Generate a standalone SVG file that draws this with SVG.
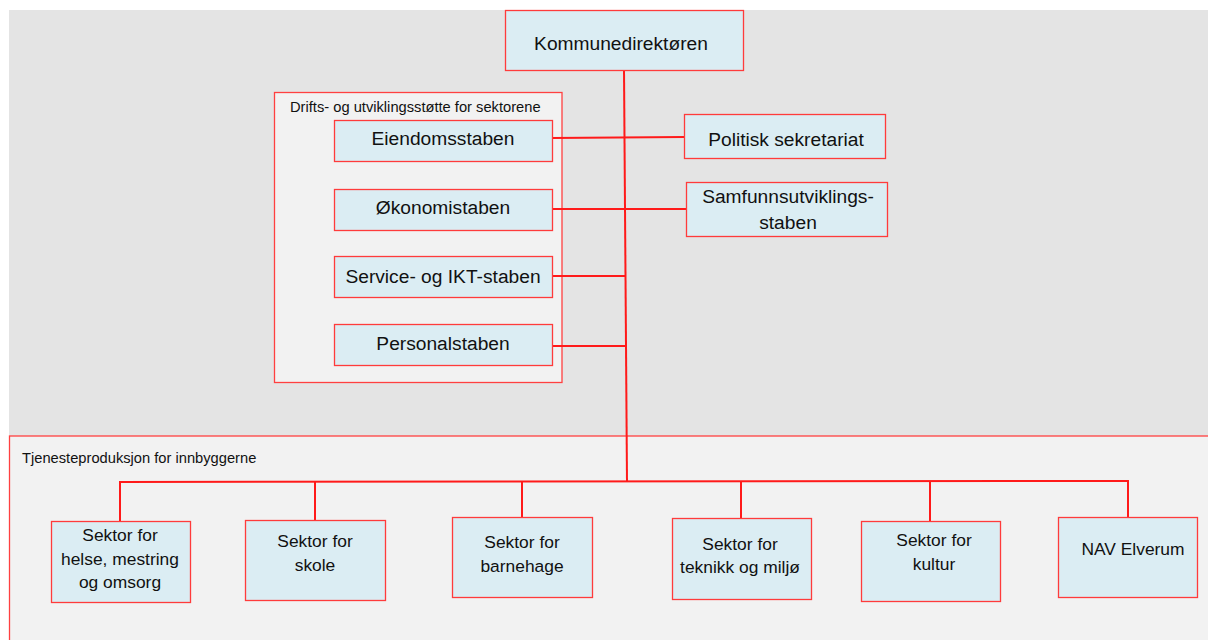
<svg xmlns="http://www.w3.org/2000/svg" width="1208" height="640" viewBox="0 0 1208 640">
<style>
.box{fill:#dbedf3;stroke:#ff3b3b;stroke-width:1.3}
.area{fill:#f2f2f2;stroke:#ff4040;stroke-width:1.3}
.t{font-family:"Liberation Sans",Arial,sans-serif;fill:#111;text-anchor:middle}
.big{font-size:19.2px}
.sec{font-size:17.4px}
.lab{font-family:"Liberation Sans",Arial,sans-serif;fill:#111;font-size:14.7px}
.con{stroke:#ff1a1a;stroke-width:2;fill:none}
</style>
<rect x="0" y="0" width="1208" height="640" fill="#ffffff"/>
<rect x="9" y="10" width="1199" height="426" fill="#e4e4e4"/>
<g id="tjeneste-area">
<rect class="area" x="9.5" y="436" width="1200" height="210"/>
<text class="lab" x="22" y="463">Tjenesteproduksjon for innbyggerne</text>
</g>
<g id="drifts-area">
<rect class="area" x="274.5" y="92.5" width="287.5" height="290"/>
<text class="lab" x="290" y="112">Drifts- og utviklingsstøtte for sektorene</text>
</g>
<g id="connectors">
<path class="con" d="M624,70 L627,482"/>
<path class="con" d="M552,138 L684,137"/>
<path class="con" d="M552,209 L686,209"/>
<path class="con" d="M552,276 L626,276"/>
<path class="con" d="M552,346 L626,346"/>
<path class="con" d="M120,521 L120,482 L1128,481 L1128,517"/>
<path class="con" d="M315,482 L315,520"/>
<path class="con" d="M522,482 L522,518"/>
<path class="con" d="M741,481 L741,518"/>
<path class="con" d="M930,481 L930,521"/>
</g>
<g id="kommunedirektoren">
<rect class="box" x="505.5" y="10.5" width="238" height="60"/>
<text class="t big" x="621" y="50">Kommunedirektøren</text>
</g>
<g id="eiendomsstaben">
<rect class="box" x="334.5" y="120.5" width="218" height="41"/>
<text class="t big" x="443" y="145">Eiendomsstaben</text>
</g>
<g id="okonomistaben">
<rect class="box" x="334.5" y="189.5" width="218" height="41"/>
<text class="t big" x="443" y="214">Økonomistaben</text>
</g>
<g id="service-ikt">
<rect class="box" x="334.5" y="256.5" width="218" height="41"/>
<text class="t big" x="443" y="283">Service- og IKT-staben</text>
</g>
<g id="personalstaben">
<rect class="box" x="334.5" y="324.5" width="218" height="41"/>
<text class="t big" x="443" y="350">Personalstaben</text>
</g>
<g id="politisk">
<rect class="box" x="684.5" y="114.5" width="201" height="44"/>
<text class="t big" x="786" y="146">Politisk sekretariat</text>
</g>
<g id="samfunnsutvikling">
<rect class="box" x="686.5" y="182.5" width="201" height="54"/>
<text class="t big" x="788" y="203">Samfunnsutviklings-</text>
<text class="t big" x="788" y="229">staben</text>
</g>
<g id="helse">
<rect class="box" x="51.5" y="521.5" width="139" height="81"/>
<text class="t sec" x="120" y="541">Sektor for</text>
<text class="t sec" x="120" y="565">helse, mestring</text>
<text class="t sec" x="120" y="588">og omsorg</text>
</g>
<g id="skole">
<rect class="box" x="245.5" y="520.5" width="140" height="80"/>
<text class="t sec" x="315" y="547">Sektor for</text>
<text class="t sec" x="315" y="571">skole</text>
</g>
<g id="barnehage">
<rect class="box" x="452.5" y="517.5" width="140" height="80"/>
<text class="t sec" x="522" y="548">Sektor for</text>
<text class="t sec" x="522" y="572">barnehage</text>
</g>
<g id="teknikk">
<rect class="box" x="672.5" y="518.5" width="139" height="81"/>
<text class="t sec" x="740" y="550">Sektor for</text>
<text class="t sec" x="740" y="573">teknikk og miljø</text>
</g>
<g id="kultur">
<rect class="box" x="861.5" y="521.5" width="139" height="80"/>
<text class="t sec" x="934" y="546">Sektor for</text>
<text class="t sec" x="934" y="570">kultur</text>
</g>
<g id="nav">
<rect class="box" x="1058.5" y="517.5" width="139" height="80"/>
<text class="t sec" x="1133" y="555">NAV Elverum</text>
</g>
</svg>
